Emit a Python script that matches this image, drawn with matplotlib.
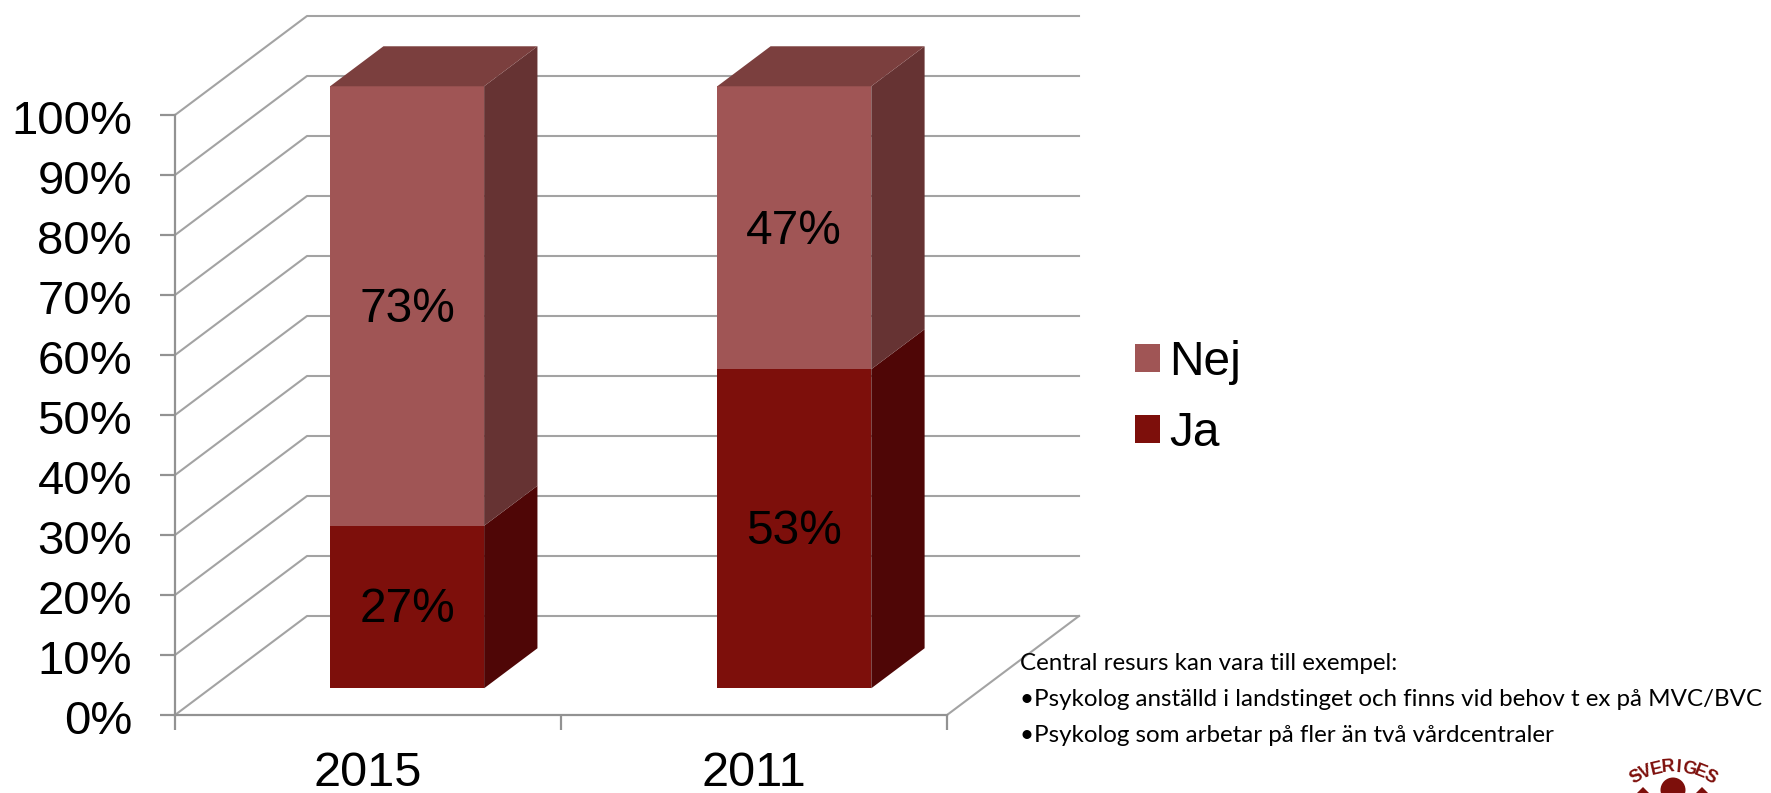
import numpy as np
import matplotlib
matplotlib.use("Agg")
import matplotlib.pyplot as plt
from matplotlib.patches import Patch, Polygon, Circle
from matplotlib.transforms import IdentityTransform, ScaledTranslation

W, H = 1771, 793

years = ["2015", "2011"]
ja = [27, 53]
nej = [73, 47]
y_ticks = list(range(0, 101, 10))
note_lines = [
    "Central resurs kan vara till exempel:",
    "\u2022Psykolog anställd i landstinget och finns vid behov t ex på MVC/BVC",
    "\u2022Psykolog som arbetar på fler än två vårdcentraler",
]
logo_word = "SVERIGES"

JA_FRONT, JA_SIDE = "#7d0f0b", "#4f0606"
NEJ_FRONT, NEJ_SIDE, NEJ_TOP = "#a05555", "#663333", "#7b3f3e"
GRID = "#a3a3a3"
AXIS = "#929292"

# depth of the fake 3D box, in data units
DEPTH_X = 132 / 386
DEPTH_Y = 99 / 6.0
BAR_W = 0.399
BAR_NEAR, BAR_FAR = 0.27, 0.674
BAR_SCALE = 602 / 600
BAR_CENTER = [0.509, 1.512]


def proj(x, y, z):
    return x + z * DEPTH_X, y + z * DEPTH_Y


plt.rcParams["font.family"] = "Liberation Sans"
fig = plt.figure(figsize=(W / 100, H / 100), dpi=100)
ax = fig.add_axes([175 / W, (H - 715) / H, 772 / W, 600 / H])
ax.set_xlim(0, 2)
ax.set_ylim(0, 100)

# back wall and floor lines
for t in y_ticks:
    bx, by = proj(0, t, 1)
    ex, ey = proj(2, t, 1)
    ax.plot([0, bx, ex], [t, by, ey], color=GRID, lw=1.5, clip_on=False, zorder=1)
fx, fy = proj(2, 0, 1)
ax.plot([2, fx], [0, fy], color=GRID, lw=1.5, clip_on=False, zorder=1)


def box(cx, lo, hi, front, side, top=None):
    x0 = cx - BAR_W / 2
    x1 = x0 + BAR_W
    lo, hi = lo * BAR_SCALE, hi * BAR_SCALE
    ax.add_patch(Polygon([proj(x0, lo, BAR_NEAR), proj(x1, lo, BAR_NEAR), proj(x1, hi, BAR_NEAR), proj(x0, hi, BAR_NEAR)],
                         fc=front, ec="none", clip_on=False, zorder=3))
    ax.add_patch(Polygon([proj(x1, lo, BAR_NEAR), proj(x1, lo, BAR_FAR), proj(x1, hi, BAR_FAR), proj(x1, hi, BAR_NEAR)],
                         fc=side, ec="none", clip_on=False, zorder=3))
    if top:
        ax.add_patch(Polygon([proj(x0, hi, BAR_NEAR), proj(x1, hi, BAR_NEAR), proj(x1, hi, BAR_FAR), proj(x0, hi, BAR_FAR)],
                             fc=top, ec="none", clip_on=False, zorder=3))


for i in range(len(years)):
    cx = BAR_CENTER[i]
    box(cx, 0, ja[i], JA_FRONT, JA_SIDE)
    box(cx, ja[i], ja[i] + nej[i], NEJ_FRONT, NEJ_SIDE, NEJ_TOP)
    tx, ty = proj(cx, ja[i] / 2 - 0.4, BAR_NEAR)
    ax.text(tx, ty, f"{ja[i]}%", ha="center", va="center", fontsize=34.5, color="black", zorder=4)
    tx, ty = proj(cx, ja[i] + nej[i] / 2 - 0.4, BAR_NEAR)
    ax.text(tx, ty, f"{nej[i]}%", ha="center", va="center", fontsize=34.5, color="black", zorder=4)

for s in ["top", "right"]:
    ax.spines[s].set_visible(False)
for s in ["left", "bottom"]:
    ax.spines[s].set_color(AXIS)
    ax.spines[s].set_linewidth(1.6)

ax.set_yticks(y_ticks)
ax.set_yticklabels([f"{t}%" for t in y_ticks])
ax.set_xticks([0, 1, 2])
ax.set_xticks([0.5, 1.5], labels=years, minor=True)
ax.set_xticklabels([])
ax.tick_params(axis="y", length=11, width=1.6, color=AXIS, labelsize=34, pad=20)
ax.tick_params(axis="x", which="major", length=11, width=1.6, color=AXIS)
ax.tick_params(axis="x", which="minor", length=0, labelsize=35, pad=26)
# labels sit a little under their ticks in the original
shift = ScaledTranslation(0, -1.6 / 72, fig.dpi_scale_trans)
for lab in ax.get_yticklabels():
    lab.set_transform(lab.get_transform() + shift)

handles = [Patch(fc=NEJ_FRONT, ec="none", label="Nej"), Patch(fc=JA_FRONT, ec="none", label="Ja")]
fig.legend(handles=handles, loc="center left", bbox_to_anchor=(1135 / W, (H - 398) / H),
           frameon=False, fontsize=34.5, handlelength=0.52, handleheight=0.52,
           handletextpad=0.2, labelspacing=0.55, borderpad=0, borderaxespad=0)

# note text
for line, y in zip(note_lines, [664, 699, 736]):
    fig.text(1020 / W, (H - y) / H, line, family="Lato", fontsize=17.4, color="black",
             ha="left", va="center", zorder=5)

# logo, cut off by the lower edge
LOGO = "#7d0f0b"
lcx, lcy, lr = 1673, 839, 72
angles = np.linspace(-30.6, 30.6, len(logo_word))
for ch, a in zip(logo_word, angles):
    x = lcx + lr * np.sin(np.radians(a))
    y = lcy - lr * np.cos(np.radians(a))
    fig.text(x / W, (H - y) / H, ch, color=LOGO, fontsize=13, fontweight="bold",
             ha="center", va="center", rotation=-a)
px = IdentityTransform()
fig.add_artist(Circle((1673, H - 790), 12.5, transform=px, fc=LOGO, ec="none"))
for tx in [1643, 1702]:
    fig.add_artist(Polygon([(tx - 8, H - 795), (tx + 8, H - 795), (tx, H - 787)],
                           transform=px, fc=LOGO, ec="none"))

fig.savefig("out.png", dpi=100)
